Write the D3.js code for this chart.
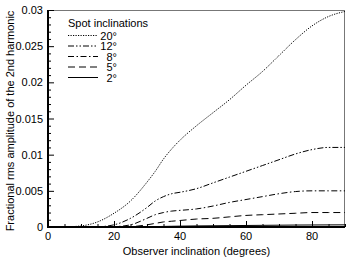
<!DOCTYPE html>
<html>
<head>
<meta charset="utf-8">
<script src="https://cdn.jsdelivr.net/npm/d3@7"></script>
<style>
    body { margin: 0; background: #fff; }
    text { font-family: "Liberation Sans", Arial, sans-serif; fill: #000; }
    .tick-label { font-size: 11px; }
    .axis-title { font-size: 11px; }
    .legend { font-size: 11px; }
</style>
</head>
<body>
<svg id="chart" width="349" height="259"></svg>
<script>
"use strict";

// observer inclination (degrees)
var inclinations = [0, 5, 10, 15, 20, 25, 30, 32.5, 35, 37.5, 40, 45, 50, 55, 60, 65, 70, 75, 80, 85, 90];

// fractional rms amplitude of the 2nd harmonic, per spot inclination
var spot20 = [0, 0.00002, 0.00015, 0.0007, 0.0019, 0.0036, 0.0062, 0.0077, 0.0094, 0.0108, 0.0120, 0.0140, 0.0158, 0.0176, 0.0196, 0.0215, 0.0237, 0.0259, 0.0278, 0.0291, 0.0298];
var spot12 = [0, 0, 0, 0.00003, 0.0003, 0.0012, 0.0027, 0.0036, 0.0042, 0.0046, 0.0048, 0.0053, 0.0061, 0.0069, 0.0077, 0.0085, 0.0093, 0.0101, 0.0107, 0.0110, 0.0110];
var spot8 = [0, 0, 0, 0, 0.00005, 0.0003, 0.0012, 0.0017, 0.0020, 0.0022, 0.0023, 0.0025, 0.0029, 0.0034, 0.0038, 0.0042, 0.0046, 0.0049, 0.0050, 0.0050, 0.0050];
var spot5 = [0, 0, 0, 0, 0, 0.00005, 0.0003, 0.0005, 0.0007, 0.0008, 0.0009, 0.0011, 0.0012, 0.0014, 0.0016, 0.0017, 0.0018, 0.0019, 0.0020, 0.0020, 0.0020];
var spot2 = [0, 0, 0, 0, 0, 0, 0.00003, 0.00005, 0.00008, 0.0001, 0.00012, 0.00015, 0.00017, 0.00019, 0.00021, 0.00023, 0.00025, 0.00027, 0.00028, 0.00029, 0.0003];

var seriesLabels = ["20°", "12°", "8°", "5°", "2°"];
var seriesValues = [spot20, spot12, spot8, spot5, spot2];
var seriesDash = ["1.2,1.3", "6,2,1.5,2,1.5,2", "6,2.5,1.5,2.5", "7,4", null];

var xTicks = [0, 20, 40, 60, 80];
var yTicks = [0, 0.005, 0.01, 0.015, 0.02, 0.025, 0.03];
var yTickLabels = ["0", "0.005", "0.01", "0.015", "0.02", "0.025", "0.03"];


var margin = { left: 48, top: 10, right: 4, bottom: 32 };
var width = 349 - margin.left - margin.right,
    height = 259 - margin.top - margin.bottom;

var svg = d3.select("#chart");
var g = svg.append("g")
    .attr("transform", "translate(" + margin.left + "," + margin.top + ")");

var x = d3.scaleLinear().domain([0, 90]).range([0, width]);
var y = d3.scaleLinear().domain([0, 0.03]).range([height, 0]);

//
// frame: top and right thin grey
//
g.append("line")
    .attr("x1", 0).attr("x2", width)
    .attr("y1", 0.5).attr("y2", 0.5)
    .attr("stroke", "#777").attr("stroke-width", 1);
g.append("line")
    .attr("x1", width - 0.5).attr("x2", width - 0.5)
    .attr("y1", 0).attr("y2", height)
    .attr("stroke", "#777").attr("stroke-width", 1);

//
// curves
//
var line = d3.line()
    .x(function (d) { return x(d[0]); })
    .y(function (d) { return y(d[1]); })
    .curve(d3.curveMonotoneX);

seriesValues.forEach(function (vals, i) {
    var pts = inclinations.map(function (inc, j) { return [inc, vals[j]]; });
    g.append("path")
        .attr("d", line(pts))
        .attr("fill", "none")
        .attr("stroke", "#000")
        .attr("stroke-width", 1)
        .attr("stroke-dasharray", seriesDash[i]);
});

//
// axes (ticks pointing inward)
//
var xAxis = g.append("g").attr("transform", "translate(0," + height + ")");
xAxis.call(d3.axisTop(x)
    .tickValues(d3.range(0, 91, 5))
    .tickSize(3)
    .tickFormat(""));
xAxis.selectAll(".tick")
    .filter(function (d) { return d % 20 === 0; })
    .select("line").attr("y2", -6);
xAxis.select(".domain").remove();

var yAxis = g.append("g");
yAxis.call(d3.axisRight(y)
    .tickValues(d3.range(0, 31).map(function (k) { return k / 1000; }))
    .tickSize(3)
    .tickFormat(""));
yAxis.selectAll(".tick")
    .filter(function (d, k) { return k % 5 === 0; })
    .select("line").attr("x2", 6);
yAxis.select(".domain").remove();

// axis lines
g.append("line")
    .attr("x1", 0).attr("x2", width)
    .attr("y1", height).attr("y2", height)
    .attr("stroke", "#000").attr("stroke-width", 2);
g.append("line")
    .attr("x1", 0).attr("x2", 0)
    .attr("y1", 0).attr("y2", height + 1)
    .attr("stroke", "#000").attr("stroke-width", 2);

// tick labels
g.selectAll("text.xlab")
    .data(xTicks)
    .enter().append("text")
    .attr("class", "tick-label")
    .attr("x", function (d) { return x(d); })
    .attr("y", height + 13)
    .attr("text-anchor", "middle")
    .text(function (d) { return d; });

g.selectAll("text.ylab")
    .data(yTicks)
    .enter().append("text")
    .attr("class", "tick-label")
    .attr("x", -5)
    .attr("y", function (d) { return y(d) + 4; })
    .attr("text-anchor", "end")
    .text(function (d, i) { return yTickLabels[i]; });

// axis titles
g.append("text")
    .attr("class", "axis-title")
    .attr("x", width / 2)
    .attr("y", height + 28)
    .attr("text-anchor", "middle")
    .text("Observer inclination (degrees)");

svg.append("text")
    .attr("class", "axis-title")
    .attr("transform", "translate(14," + 121 + ") rotate(-90)")
    .attr("text-anchor", "middle")
    .text("Fractional rms amplitude of the 2nd harmonic");

//
// legend
//
var legend = svg.append("g").attr("class", "legend");
legend.append("text")
    .attr("x", 68).attr("y", 27)
    .text("Spot inclinations");

seriesLabels.forEach(function (lab, i) {
    var ly = 35.5 + i * 10.5;
    legend.append("line")
        .attr("x1", 68).attr("x2", 98)
        .attr("y1", ly).attr("y2", ly)
        .attr("stroke", "#000")
        .attr("stroke-width", 1)
        .attr("stroke-dasharray", seriesDash[i]);
    legend.append("text")
        .attr("x", 117).attr("y", ly + 4)
        .attr("text-anchor", "end")
        .text(lab);
});
</script>
</body>
</html>
